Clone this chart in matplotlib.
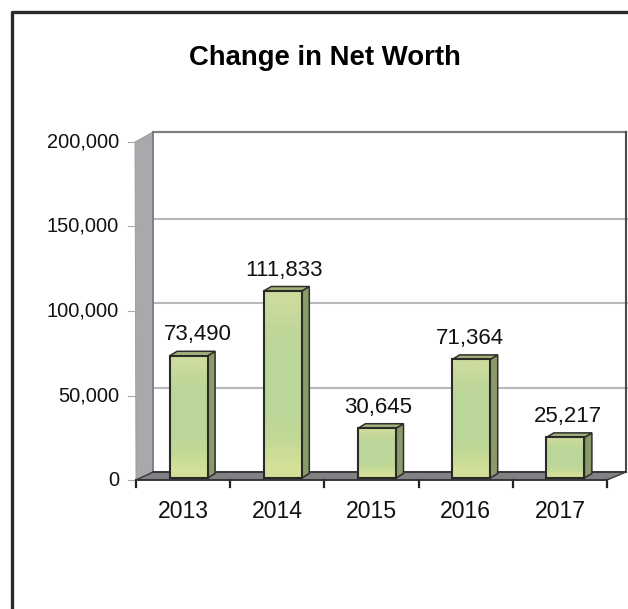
import numpy as np
import matplotlib
matplotlib.use('Agg')
import matplotlib.pyplot as plt
from matplotlib.patches import Polygon, Rectangle

plt.rcParams['font.family'] = ['Liberation Sans', 'DejaVu Sans']

years = ['2013', '2014', '2015', '2016', '2017']
values = [73490, 111833, 30645, 71364, 25217]
yticks = [0, 50000, 100000, 150000, 200000]
label_nudge = [9, 1, 1, -1, 3]  # px, labels are not quite centred on the bars

W, H = 628, 609
fig = plt.figure(figsize=(W/100, H/100), dpi=100)
ax = fig.add_axes([136/W, 1-480/H, 471/W, 338/H])
ax.set_xlim(-0.5, 4.5)
ax.set_ylim(0, 200000)
ax.axis('off')

# one pixel in data units
px = 5/471
py = 200000/338

# depth of the fake 3d box
dx = 17*px
dxr = 19*px
dy = 8*py
dtop = 10*py
x0, x1 = -0.5, 4.5
ymax = 200000

# outer frame, only left and top are in the picture
fig.add_artist(plt.Line2D([12/W, 12/W, 1], [0, 1-12/H, 1-12/H], color='#2b2b2b', lw=2.4))

# walls and floor
ax.add_patch(Polygon([(x0, 0), (x0+dx, dy), (x0+dx, ymax+dtop), (x0-1*px, ymax)], fc='#a8a8ad', ec='#98989c', lw=0.6, clip_on=False, zorder=1))
ax.add_patch(Polygon([(x0, 0), (x0+dx, dy), (x1+dxr, dy), (x1, 0)], fc='#808085', ec='#3a3a3a', lw=1, clip_on=False, zorder=2))

# gridlines on the back wall
for t in yticks[1:-1]:
    ax.plot([x0+dx, x1+dxr+3*px], [t+dy, t+dy], color='#b8b8b8', lw=1.5, clip_on=False, zorder=1)
ax.plot([x0+dx, x1+dxr], [ymax+dtop, ymax+dtop], color='#808080', lw=1.6, clip_on=False, zorder=1)
ax.plot([x0+dx, x0+dx], [dy, ymax+dtop], color='#77777b', lw=1.2, clip_on=False, zorder=2)
ax.plot([x1+dxr, x1+dxr], [dy, ymax+dtop], color='#4a4a4a', lw=1.5, clip_on=False, zorder=2)
ax.plot([x0+dx, x1+dxr], [dy, dy], color='#3a3a3a', lw=1.4, clip_on=False, zorder=2)

# bars
shift = 5.5*px
bw = 38*px
base = 2*py
bdx = 7.5*px
bdy = 4.5*py
grad = np.array([[0.80, 0.86, 0.62], [0.75, 0.84, 0.60], [0.73, 0.84, 0.60], [0.73, 0.84, 0.60],
                 [0.73, 0.84, 0.60], [0.76, 0.85, 0.59], [0.83, 0.88, 0.60]]).reshape(7, 1, 3)
for i, v in enumerate(values):
    l = i + shift - bw/2
    r = l + bw
    ax.add_patch(Polygon([(r, base), (r+bdx, base+bdy), (r+bdx, v+bdy), (r, v)], fc='#8b9a6b', ec='#2e2e2a', lw=1.1, zorder=4))
    ax.add_patch(Polygon([(l, v), (l+bdx, v+bdy), (r+bdx, v+bdy), (r, v)], fc='#a3b07c', ec='#2e2e2a', lw=1.1, zorder=4))
    im = ax.imshow(grad, extent=(l, r, base, v), aspect='auto', origin='upper', zorder=5, interpolation='bilinear')
    rect = Rectangle((l, base), bw, v-base, fc='none', ec='#2a2a26', lw=1.5, zorder=6)
    ax.add_patch(rect)
    im.set_clip_path(rect)
    ax.annotate(f'{v:,}', (i+shift, v), xytext=(label_nudge[i], 21), textcoords='offset pixels',
                ha='center', va='center', fontsize=16, color='#111111', zorder=7, annotation_clip=False)
ax.set_xlim(-0.5, 4.5)
ax.set_ylim(0, 200000)

# ticks, drawn by hand since the frame is off
for t in yticks:
    ax.plot([x0-8*px, x0], [t, t], color='#a8a8a8', lw=0.8, clip_on=False, zorder=3)
    ax.text(x0-17*px, t, f'{t:,}', ha='right', va='center', fontsize=14.4, color='#111111')
for k in range(6):
    ax.plot([x0+k, x0+k], [0, -7*py], color='#222222', lw=1.6, clip_on=False, zorder=3)
ax.plot([x0, x1], [0, 0], color='#333333', lw=1.2, clip_on=False, zorder=3)
for i, y in enumerate(years):
    ax.text(i, -32*py, y, ha='center', va='center', fontsize=16.6, color='#111111')

fig.text(324.5/W, 1-58/H, 'Change in Net Worth', ha='center', va='center', fontsize=19.8, fontweight='bold', color='#000000')

fig.savefig('out.png', dpi=100)
